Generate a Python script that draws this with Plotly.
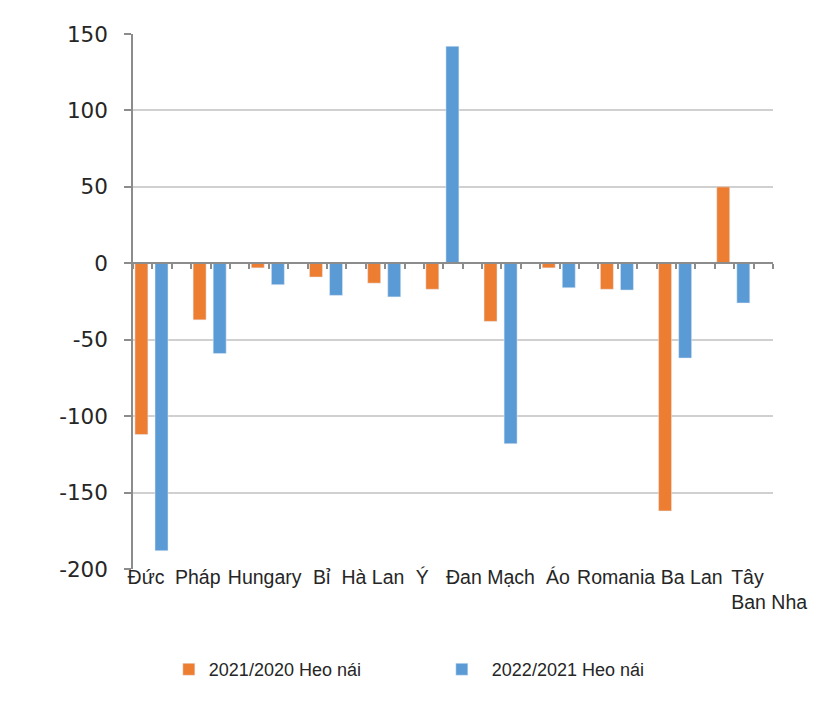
import plotly.graph_objects as go

categories = ["Đức", "Pháp", "Hungary", "Bỉ", "Hà Lan", "Ý", "Đan Mạch", "Áo", "Romania", "Ba Lan",
              "Tây" + "\u00a0" * 8 + "<br>Ban Nha"]
series_2021 = [-112, -37, -3, -9, -13, -17, -38, -3, -17, -162, 50]
series_2022 = [-188, -59, -14, -21, -22, 142, -118, -16, -17.5, -62, -26]
y_ticks = [150, 100, 50, 0, -50, -100, -150, -200]
y_tick_text = ["150", "100", "50", "0", "-50", "-100", "-150", "-200"]

name_2021 = "2021/2020 Heo nái"
name_2022 = "\u00a0\u00a02022/2021 Heo nái"

ORANGE = "#ED7D31"
BLUE = "#5B9BD5"

idx = list(range(len(categories)))

# layout: horizontal nudge of each category label (Excel packs them in one line)
label_nudge = [-0.11, -0.22, -0.07, -0.09, -0.21, -0.36, -0.19, -0.03, -0.03, 0.27, 0.60]
label_pos = [i + d for i, d in zip(idx, label_nudge)]

fig = go.Figure()
fig.add_trace(go.Bar(x=idx, y=series_2021, name=name_2021, marker_color=ORANGE,
                     offset=-0.30, width=0.223))
fig.add_trace(go.Bar(x=idx, y=series_2022, name=name_2022, marker_color=BLUE,
                     offset=0.045, width=0.223))

# secondary axis drawn at y = 0 with minor tick marks (Excel style)
fig.add_trace(go.Scatter(x=[-1/3, 10 + 2/3], y=[0, 0], xaxis="x2", mode="lines",
                         line=dict(width=0), showlegend=False, hoverinfo="skip"))

ymin, ymax = -200, 150
zero_frac = (0 - ymin) / (ymax - ymin)

fig.update_layout(
    width=820, height=706,
    margin=dict(l=125, r=55, t=26, b=144.5, autoexpand=False),
    paper_bgcolor="white", plot_bgcolor="white",
    showlegend=True,
    legend=dict(orientation="h", x=0.056, y=-0.188, xanchor="left", yanchor="middle",
                font=dict(family="Liberation Sans, Arial", size=18, color="#262626"),
                entrywidth=228, entrywidthmode="pixels", traceorder="normal"),
    xaxis=dict(type="linear", range=[-1/3, 10 + 2/3], automargin=False,
               tickmode="array", tickvals=label_pos, ticktext=categories, tickangle=0,
               ticks="", showline=False, showgrid=False, zeroline=False,
               ticklabelstandoff=-6,
               tickfont=dict(family="Liberation Sans, Arial", size=19.5, color="#262626")),
    xaxis2=dict(type="linear", range=[-1/3, 10 + 2/3], overlaying="x", anchor="free",
                position=zero_frac, side="bottom",
                tick0=-1/3, dtick=1/3, ticks="outside", ticklen=5, tickwidth=1.5,
                tickcolor="#8c8c8c", showticklabels=False, showline=True,
                linecolor="#8c8c8c", linewidth=1.5, showgrid=False, zeroline=False),
    yaxis=dict(range=[ymin, ymax], tickmode="array", tickvals=y_ticks, ticktext=y_tick_text,
               automargin=False, ticklabelstandoff=12,
               ticks="outside", ticklen=7, tickwidth=1.5, tickcolor="#8c8c8c",
               showline=True, linecolor="#8c8c8c", linewidth=1.5,
               showgrid=True, gridcolor="#d0d0d0", gridwidth=1.5, zeroline=False,
               tickfont=dict(family="DejaVu Sans, Verdana", size=21.5, color="#262626")),
)

fig.write_html("out.html")
